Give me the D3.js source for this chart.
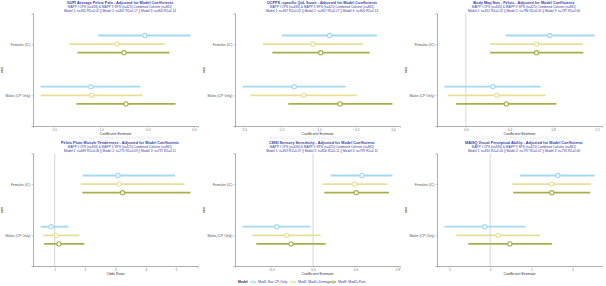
<!DOCTYPE html>
<html>
<head>
<meta charset="utf-8">
<script src="https://cdn.jsdelivr.net/npm/d3@7"></script>
<style>
  body { margin: 0; background: #fff; }
  text { font-family: "Liberation Sans", Arial, sans-serif; }
</style>
</head>
<body>
<div id="chart"></div>
<script>
const categories = ["Females (IC)", "Males (CP Only)"];
const models = ["Mod1 Sex-CP-Only", "Mod2: Mod1+Demog", "Mod3: Mod2+Pain"];
const modelColors = ["#a3d9f2", "#e8df96", "#a9ae48"];

const titles = [
  "GUPI Average Pelvic Pain - Adjusted for Model Coefficients",
  "UCPPS -specific QoL Score - Adjusted for Model Coefficients",
  "Body Map Non - Pelvic - Adjusted for Model Coefficients",
  "Pelvic Floor Muscle Tenderness - Adjusted for Model Coefficients",
  "CMSI Sensory Sensitivity - Adjusted for Model Coefficients",
  "MAISQ Visual Perceptual Ability - Adjusted for Model Coefficients"
];
const subtitle1 = "MAPP I CPS (n=436) & MAPP II SPS (n=425) Combined Cohorts (n=861)";
const subtitles2 = [
  "Model 1: n=835 R2=0.02 || Model 2: n=807 R2=0.17 || Model 3: n=800 R2=0.14",
  "Model 1: n=837 R2=0.02 || Model 2: n=807 R2=0.27 || Model 3: n=800 R2=0.13",
  "Model 1: n=812 R2=0.02 || Model 2: n=786 R2=0.05 || Model 3: n=787 R2=0.06",
  "Model 1: n=689 R2=0.08 || Model 2: n=775 R2=0.09 || Model 3: n=737 R2=0.11",
  "Model 1: n=819 R2=0.07 || Model 2: n=806 R2=0.11 || Model 3: n=799 R2=0.11",
  "Model 1: n=810 R2=0.04 || Model 2: n=797 R2=0.07 || Model 3: n=790 R2=0.06"
];
const axisTitles = ["Coefficient Estimate", "Coefficient Estimate", "Coefficient Estimate",
  "Odds Ratio", "Coefficient Estimate", "Coefficient Estimate"];
const refLines = [null, null, 0, 1, 0, 0];
const tickValues = [
  [-1.5, -1.0, -0.5, 0.0],
  [-2.0, -1.5, -1.0, -0.5, 0.0],
  [0.0, 0.4, 0.8, 1.2],
  [1, 2, 3, 4, 5],
  [-0.4, 0.0, 0.4, 0.8],
  [-1, 0, 1, 2]
];
const tickFormats = [".1f", ".1f", ".1f", "d", ".1f", "d"];

// order per panel: Females Mod1..Mod3, Males Mod1..Mod3
const estimates = [
  [-0.525, -0.822, -0.746, -1.101, -1.091, -0.725],
  [-0.851, -1.073, -0.967, -1.322, -1.197, -0.710],
  [0.769, 0.648, 0.648, 0.247, 0.283, 0.371],
  [3.087, 3.130, 3.239, 0.880, 1.054, 1.141],
  [0.463, 0.394, 0.409, -0.344, -0.250, -0.209],
  [1.640, 1.488, 1.496, -0.128, 0.192, 0.480]
];
const lowers = [
  [-1.022, -1.330, -1.243, -1.638, -1.638, -1.254],
  [-1.486, -1.738, -1.614, -2.013, -1.907, -1.401],
  [0.365, 0.223, 0.223, -0.196, -0.166, -0.090],
  [1.924, 1.859, 1.913, 0.533, 0.620, 0.652],
  [0.166, 0.091, 0.106, -0.669, -0.575, -0.538],
  [0.728, 0.536, 0.560, -1.104, -0.816, -0.528]
];
const uppers = [
  [-0.036, -0.312, -0.261, -0.569, -0.551, -0.196],
  [-0.217, -0.404, -0.315, -0.634, -0.488, -0.009],
  [1.179, 1.073, 1.076, 0.687, 0.730, 0.829],
  [4.967, 5.283, 5.478, 1.457, 1.815, 1.978],
  [0.753, 0.706, 0.719, -0.025, 0.072, 0.119],
  [2.528, 2.440, 2.424, 0.856, 1.208, 1.496]
];

const width = 606;
const height = 286;

const svg = d3.select("#chart")
  .append("svg")
  .attr("width", width)
  .attr("height", height);

const titleColor = "#3a3a9e";

titles.forEach((title, i) => {
  const col = i % 3;
  const row = Math.floor(i / 3);
  const ox = col * 202;
  const oy = row * 140;
  const margin = {left: 33, right: 4, top: 13.4, bottom: 14};
  const x0 = ox + margin.left, x1 = ox + 202 - margin.right;
  const y0 = oy + margin.top, y1 = oy + 140 - margin.bottom;

  const g = svg.append("g");

  // rows of data for this panel
  const rows = estimates[i].map((e, k) => ({
    cat: Math.floor(k / 3),
    model: k % 3,
    est: e,
    lo: lowers[i][k],
    hi: uppers[i][k]
  }));

  // ggplot style 5% expansion
  let lo = d3.min(rows, d => d.lo), hi = d3.max(rows, d => d.hi);
  if (refLines[i] !== null) { lo = Math.min(lo, refLines[i]); hi = Math.max(hi, refLines[i]); }
  const pad = (hi - lo) * 0.05;

  const xScale = d3.scaleLinear()
    .domain([lo - pad, hi + pad])
    .range([x0, x1]);

  const yScale = d3.scaleLinear()
    .domain([0.4, 2.6])
    .range([y0, y1]);

  const dodge = 0.168;

  // titles
  g.append("text")
    .attr("x", ox + 120).attr("y", oy + 4.2)
    .attr("text-anchor", "middle")
    .attr("font-size", 3.8).attr("font-weight", "bold")
    .attr("fill", titleColor)
    .text(title);
  g.append("text")
    .attr("x", ox + 120).attr("y", oy + 8.1)
    .attr("text-anchor", "middle")
    .attr("font-size", 3.2)
    .attr("fill", titleColor)
    .text(subtitle1);
  g.append("text")
    .attr("x", ox + 120).attr("y", oy + 11.5)
    .attr("text-anchor", "middle")
    .attr("font-size", 3.2)
    .attr("fill", titleColor)
    .text(subtitles2[i]);

  // reference line
  if (refLines[i] !== null) {
    g.append("line")
      .attr("x1", xScale(refLines[i])).attr("x2", xScale(refLines[i]))
      .attr("y1", y0).attr("y2", y1)
      .attr("stroke", "#bbbbbb").attr("stroke-width", 0.6);
  }

  // x axis
  const xAxis = g.append("g")
    .attr("transform", `translate(0,${y1})`)
    .call(d3.axisBottom(xScale)
      .tickValues(tickValues[i])
      .tickFormat(d3.format(tickFormats[i]))
      .tickSize(1.5)
      .tickPadding(1));
  xAxis.select(".domain").attr("stroke", "#9a9a9a").attr("stroke-width", 0.8);
  xAxis.selectAll(".tick line").attr("stroke", "#9a9a9a").attr("stroke-width", 0.5);
  xAxis.selectAll(".tick text")
    .attr("font-size", 3.2).attr("fill", "#777")
    .attr("font-family", "Liberation Sans, Arial, sans-serif");

  // y axis
  const yAxis = g.append("g")
    .attr("transform", `translate(${x0},0)`)
    .call(d3.axisLeft(yScale)
      .tickValues([1, 2])
      .tickFormat(d => categories[d - 1])
      .tickSize(1.5)
      .tickPadding(1.2));
  yAxis.select(".domain").attr("stroke", "#9a9a9a").attr("stroke-width", 0.8);
  yAxis.selectAll(".tick line").attr("stroke", "#9a9a9a").attr("stroke-width", 0.5);
  yAxis.selectAll(".tick text")
    .attr("font-size", 3.4).attr("fill", "#555")
    .attr("font-family", "Liberation Sans, Arial, sans-serif");

  // axis titles
  g.append("text")
    .attr("x", (x0 + x1) / 2).attr("y", oy + 134.5)
    .attr("text-anchor", "middle")
    .attr("font-size", 3.6).attr("fill", "#333")
    .text(axisTitles[i]);
  g.append("text")
    .attr("transform", `translate(${ox + 3.2},${oy + 70}) rotate(-90)`)
    .attr("text-anchor", "middle")
    .attr("font-size", 3.6).attr("font-weight", "bold").attr("fill", "#444")
    .text("sex");

  // error bars
  g.selectAll(".bar")
    .data(rows)
    .enter()
    .append("line")
      .attr("class", "bar")
      .attr("x1", d => xScale(d.lo))
      .attr("x2", d => xScale(d.hi))
      .attr("y1", d => yScale(d.cat + 1 + (d.model - 1) * dodge))
      .attr("y2", d => yScale(d.cat + 1 + (d.model - 1) * dodge))
      .attr("stroke", d => modelColors[d.model])
      .attr("stroke-width", 1.8);

  g.selectAll(".pt")
    .data(rows)
    .enter()
    .append("circle")
      .attr("class", "pt")
      .attr("cx", d => xScale(d.est))
      .attr("cy", d => yScale(d.cat + 1 + (d.model - 1) * dodge))
      .attr("r", 2.1)
      .attr("fill", "#fff")
      .attr("stroke", d => modelColors[d.model])
      .attr("stroke-width", 1.1);

  // faint leftover caption under top panels
  if (row === 0) {
    g.append("text")
      .attr("x", ox + 115).attr("y", oy + 139)
      .attr("text-anchor", "middle")
      .attr("font-size", 3.2).attr("fill", "#dfe6f5")
      .text("Model: " + models.join("   "));
  }
});

// legend under middle bottom panel
const legend = svg.append("g").attr("transform", "translate(0,282)");
legend.append("text")
  .attr("x", 238).attr("y", 1.2)
  .attr("font-size", 3.4).attr("font-weight", "bold").attr("fill", "#333")
  .text("Model");
const legendX = [250, 290, 330];
models.forEach((m, j) => {
  legend.append("line")
    .attr("x1", legendX[j]).attr("x2", legendX[j] + 6)
    .attr("y1", 0).attr("y2", 0)
    .attr("stroke", modelColors[j]).attr("stroke-width", 1.4);
  legend.append("circle")
    .attr("cx", legendX[j] + 3).attr("cy", 0).attr("r", 1.2)
    .attr("fill", "#fff").attr("stroke", modelColors[j]).attr("stroke-width", 0.8);
  legend.append("text")
    .attr("x", legendX[j] + 8).attr("y", 1.2)
    .attr("font-size", 3.4).attr("fill", "#3a3a9e")
    .text(m);
});
</script>
</body>
</html>
